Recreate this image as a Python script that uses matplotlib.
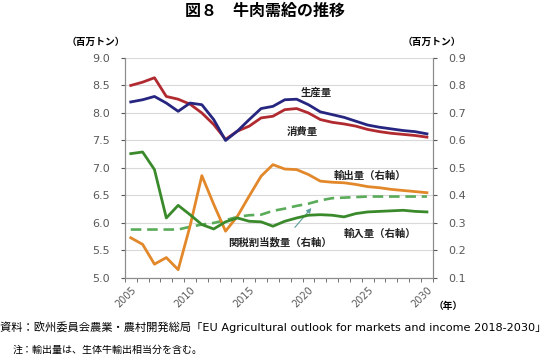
import matplotlib
matplotlib.use("Agg")
import matplotlib.pyplot as plt
from matplotlib.ticker import MultipleLocator, FixedLocator

plt.rcParams['font.family'] = ['Noto Sans CJK JP', 'DejaVu Sans']

years = list(range(2005, 2031))

# left axis (million t)
production = [8.20, 8.24, 8.30, 8.18, 8.03, 8.18, 8.15, 7.88, 7.50, 7.67, 7.88, 8.08, 8.12,
              8.24, 8.25, 8.15, 8.02, 7.97, 7.92, 7.85, 7.78, 7.74, 7.71, 7.68, 7.66, 7.62]
consumption = [8.50, 8.56, 8.64, 8.30, 8.25, 8.16, 8.00, 7.79, 7.52, 7.67, 7.76, 7.91, 7.94,
               8.06, 8.08, 8.00, 7.88, 7.83, 7.80, 7.76, 7.70, 7.66, 7.63, 7.61, 7.59, 7.56]

# right axis (million t)
exports = [0.246, 0.222, 0.150, 0.174, 0.130, 0.288, 0.472, 0.368, 0.270, 0.324, 0.398, 0.470, 0.512,
           0.496, 0.494, 0.476, 0.452, 0.448, 0.446, 0.440, 0.432, 0.428, 0.422, 0.418, 0.414, 0.410]
imports = [0.552, 0.558, 0.494, 0.318, 0.364, 0.330, 0.294, 0.278, 0.304, 0.318, 0.306, 0.304, 0.288,
           0.306, 0.318, 0.328, 0.330, 0.328, 0.322, 0.334, 0.340, 0.342, 0.344, 0.346, 0.342, 0.340]
trq = [0.276, 0.276, 0.276, 0.276, 0.276, 0.286, 0.294, 0.300, 0.310, 0.322, 0.328, 0.330, 0.344,
       0.352, 0.362, 0.370, 0.382, 0.390, 0.392, 0.394, 0.396, 0.396, 0.396, 0.396, 0.396, 0.396]

x_labels = [2005, 2010, 2015, 2020, 2025, 2030]

gray = "#595959"
grid_c = "#d9d9d9"

fig = plt.figure(figsize=(5.5, 3.6), dpi=100)
ax = fig.add_axes([0.227, 0.228, 0.56, 0.611])
ax2 = ax.twinx()

ax.plot(years, consumption, color="#b02a30", lw=2.0, solid_joinstyle="round", zorder=3)
ax.plot(years, production, color="#262680", lw=2.0, solid_joinstyle="round", zorder=4)

ax2.plot(years, trq, color="#5aab5a", lw=1.9, ls=(0, (4, 2.2)), zorder=2)
ax2.plot(years, exports, color="#e3882a", lw=2.0, solid_joinstyle="round", zorder=3)
ax2.plot(years, imports, color="#3a8a2c", lw=2.0, solid_joinstyle="round", zorder=4)

ax.set_xlim(2004.5, 2030.5)
ax.set_ylim(5.0, 9.0)
ax2.set_ylim(0.1, 0.9)

ax.yaxis.set_major_locator(MultipleLocator(0.5))
ax2.yaxis.set_major_locator(MultipleLocator(0.1))
ax.yaxis.set_major_formatter(plt.FormatStrFormatter("%.1f"))
ax2.yaxis.set_major_formatter(plt.FormatStrFormatter("%.1f"))

ax.set_xticks(x_labels)
ax.set_xticklabels([str(y) for y in x_labels], rotation=45, ha="right", va="top",
                   rotation_mode="anchor", family="DejaVu Sans", color=gray, fontsize=7)
ax.tick_params(axis="x", which="major", length=0, pad=5)
ax.xaxis.set_minor_locator(FixedLocator([y - 0.5 for y in years] + [2030.5]))
ax.tick_params(axis="x", which="minor", length=3, color=gray, direction="out")

ax.tick_params(axis="y", length=3, color=gray, labelcolor=gray, labelsize=8, pad=8)
ax2.tick_params(axis="y", length=3, color=gray, labelcolor=gray, labelsize=8, pad=8)
for lab in ax.get_yticklabels() + ax2.get_yticklabels():
    lab.set_family("DejaVu Sans")

ax.grid(axis="y", color=grid_c, lw=0.8)
ax.set_axisbelow(True)
for a in (ax, ax2):
    a.spines["top"].set_visible(False)
    for s in ("left", "right", "bottom"):
        a.spines[s].set_color("#8c8c8c")
        a.spines[s].set_linewidth(0.8)

fig.text(0.482, 0.97, "図８　牛肉需給の推移", ha="center", va="center", fontsize=11.5, fontweight="bold")
fig.text(0.175, 0.883, "（百万トン）", ha="center", va="center", fontsize=7, fontweight="bold")
fig.text(0.786, 0.883, "（百万トン）", ha="center", va="center", fontsize=7, fontweight="bold")
fig.text(0.815, 0.15, "（年）", ha="center", va="center", fontsize=7, fontweight="bold")

lab_kw = dict(ha="center", va="center", fontsize=7.5, fontweight="bold", color="#222222")
ax2.text(2020.7, 0.773, "生産量", **lab_kw)
ax2.text(2019.5, 0.631, "消費量", **lab_kw)
ax2.text(2025.2, 0.471, "輸出量（右軸）", **lab_kw)
ax2.text(2026.0, 0.262, "輸入量（右軸）", **lab_kw)
ax2.text(2017.6, 0.229, "関税割当数量（右軸）", **lab_kw)
ax2.annotate("", xy=(2020.4, 0.362), xytext=(2018.7, 0.276),
             arrowprops=dict(arrowstyle="-|>", color="#5f9ea0", lw=0.8, mutation_scale=7))

foot_fam = ['DejaVu Sans', 'Noto Sans CJK JP']
fig.text(0.0, 0.092, "資料：欧州委員会農業・農村開発総局「EU Agricultural outlook for markets and income 2018-2030」",
         ha="left", va="center", fontsize=8.1, family=foot_fam)
fig.text(0.022, 0.028, "注：輸出量は、生体牛輸出相当分を含む。", ha="left", va="center", fontsize=7.2,
         family=foot_fam)

fig.savefig("out.png", dpi=100, facecolor="white")
